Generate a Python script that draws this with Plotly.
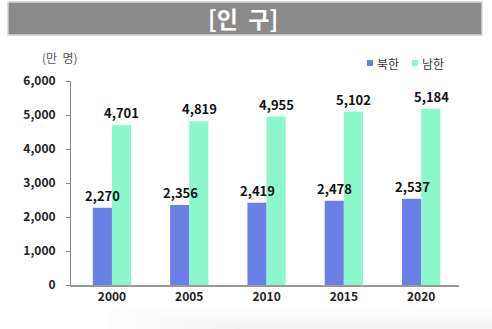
import plotly.graph_objects as go

# 인구 (만 명)
years = ["2000", "2005", "2010", "2015", "2020"]
north = [2270, 2356, 2419, 2478, 2537]
south = [4701, 4819, 4955, 5102, 5184]
y_ticks = [0, 1000, 2000, 3000, 4000, 5000, 6000]

W, H = 492, 329
L, R, T, B = 71, 33, 81, 44
PW, PH = W - L - R, H - T - B

FONT = "Noto Sans CJK KR"
BLUE = "#6b80e6"
GREEN = "#8cf7cc"


def px(x):
    return (x - L) / PW


def py(y):
    return (H - B - y) / PH


fig = go.Figure()
for name, vals, col in [("북한", north, BLUE), ("남한", south, GREEN)]:
    fig.add_trace(go.Bar(
        x=years, y=vals, name=name, marker=dict(color=col, line=dict(width=0)),
        showlegend=False,
    ))

# value labels above each bar (annotations, so they sit on top of the neighbouring bar)
annotations = []
for vals, shift in [(north, -9), (south, 10)]:
    for i, v in enumerate(vals):
        annotations.append(dict(
            x=i, y=v, xref="x", yref="y", text=f"{v:,}", showarrow=False,
            xanchor="center", yanchor="bottom", xshift=shift, yshift=1,
            font=dict(family=FONT, size=13, color="#111", weight="bold"),
        ))

shapes = [
    # title banner
    dict(type="rect", xref="paper", yref="paper", x0=px(8), x1=px(482),
         y0=py(35), y1=py(2), fillcolor="#8a8a8a",
         line=dict(color="#d4d4d4", width=1.5), layer="below"),
    # legend swatches
    dict(type="rect", xref="paper", yref="paper", x0=px(367), x1=px(373),
         y0=py(66), y1=py(60), fillcolor=BLUE, line=dict(width=0)),
    dict(type="rect", xref="paper", yref="paper", x0=px(412), x1=px(418),
         y0=py(66), y1=py(60), fillcolor=GREEN, line=dict(width=0)),
]
# soft shadow along the bottom edge
for i in range(6):
    shapes.append(dict(type="rect", xref="paper", yref="paper",
                       x0=px(110 + i * 25), x1=px(492), y0=py(329), y1=py(310 + i * 3),
                       fillcolor="rgba(0,0,0,0.006)", line=dict(width=0),
                       layer="below"))

annotations += [
    dict(text="[인\u00a0\u00a0구]", xref="paper", yref="paper", x=px(243), y=py(18),
         showarrow=False, xanchor="center", yanchor="middle",
         font=dict(family=FONT, size=23, color="white", weight="bold")),
    dict(text="(만\u00a0\u00a0명)", xref="paper", yref="paper", x=px(60), y=py(58),
         showarrow=False, xanchor="center", yanchor="middle",
         font=dict(family=FONT, size=12, color="#555")),
    dict(text="북한", xref="paper", yref="paper", x=px(375), y=py(63),
         showarrow=False, xanchor="left", yanchor="middle",
         font=dict(family=FONT, size=12, color="#333")),
    dict(text="남한", xref="paper", yref="paper", x=px(420), y=py(63),
         showarrow=False, xanchor="left", yanchor="middle",
         font=dict(family=FONT, size=12, color="#333")),
]

fig.update_layout(
    width=W, height=H, margin=dict(l=L, r=R, t=T, b=B),
    paper_bgcolor="white", plot_bgcolor="white",
    barmode="group", bargap=0.505, bargroupgap=0,
    shapes=shapes, annotations=annotations,
    font=dict(family=FONT),
    xaxis=dict(
        type="category", range=[-0.53, 4.49], showgrid=False,
        showline=True, linecolor="#999", linewidth=1.5, ticks="",
        tickfont=dict(family=FONT, size=12, color="#222", weight="bold"),
        fixedrange=True,
    ),
    yaxis=dict(
        range=[0, 6000], tickvals=y_ticks, tickformat=",",
        showgrid=False, zeroline=False, showline=True, linecolor="#888",
        linewidth=1, ticks="outside", ticklen=4, tickcolor="#888",
        tickfont=dict(family=FONT, size=12, color="#222", weight="bold"),
        ticklabelstandoff=8, fixedrange=True,
    ),
)

fig.write_html("out.html")
